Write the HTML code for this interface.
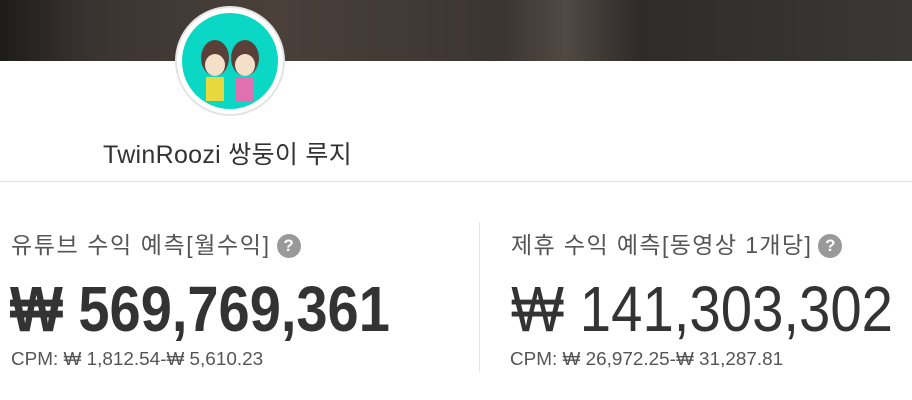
<!DOCTYPE html>
<html><head><meta charset="utf-8"><style>
body{margin:0;width:912px;height:400px;overflow:hidden;background:#fff;font-family:"Liberation Sans","Noto Sans CJK KR",sans-serif;position:relative}
.abs{position:absolute;white-space:nowrap}
.banner{left:0;top:0;width:912px;height:61px;background:linear-gradient(90deg,#1e1c1a 0%,#3a3431 10%,#4a403a 30%,#3b3532 55%,#514942 62%,#2f2b29 70%,#3a3836 100%)}
.avatar{left:175px;top:6px;width:106px;height:106px;border-radius:50%;background:#fff;border:2px solid #e4e4e4}
.avatar .in{position:absolute;left:5px;top:5px;width:96px;height:96px;border-radius:50%;background:#0bd8c4;overflow:hidden}
.title{font-size:23px;color:#555;letter-spacing:1.6px}
.q{display:inline-block;width:24px;height:24px;border-radius:50%;background:#999;color:#fff;font-size:17px;text-align:center;line-height:24px;font-weight:bold;vertical-align:2px;margin-left:6px;letter-spacing:0}
.big{font-size:64px;color:#333;transform-origin:left top}
.cpm{font-size:18px;color:#555;transform-origin:left top}
</style></head><body>
<div class="abs banner"></div>
<div class="abs avatar"><div class="in">
<svg width="96" height="96"><ellipse cx="33" cy="45" rx="14" ry="18" fill="#5a4038"/><ellipse cx="63" cy="45" rx="14" ry="18" fill="#5a4038"/><ellipse cx="33" cy="52" rx="10" ry="11" fill="#f4e0c8"/><ellipse cx="63" cy="52" rx="10" ry="11" fill="#f4e0c8"/><rect x="24" y="64" width="18" height="24" fill="#e8d840"/><rect x="54" y="64" width="18" height="24" fill="#e070b0"/></svg></div></div>
<div class="abs" style="left:103px;top:135px;font-size:25px;letter-spacing:0.3px;color:#333">TwinRoozi 쌍둥이 루지</div>
<div class="abs" style="left:0;top:181px;width:912px;height:1px;background:#e2e2e2"></div>
<div class="abs" style="left:479px;top:222px;width:1px;height:150px;background:#e6e6e6"></div>

<div class="abs title" style="left:11px;top:226px">유튜브 수익 예측[월수익]<span class="q">?</span></div>
<div class="abs big" style="left:10px;top:272px;font-weight:bold;transform:scaleX(0.875)">₩ 569,769,361</div>
<div class="abs cpm" style="left:11px;top:349px;transform:scaleX(1.05)">CPM: ₩ 1,812.54-₩ 5,610.23</div>

<div class="abs title" style="left:511px;top:226px;letter-spacing:1.4px">제휴 수익 예측[동영상 1개당]<span class="q">?</span></div>
<div class="abs big" style="left:511px;top:272px;transform:scaleX(0.88)">₩ 141,303,302</div>
<div class="abs cpm" style="left:510px;top:349px;transform:scaleX(1.05)">CPM: ₩ 26,972.25-₩ 31,287.81</div>
</body></html>
